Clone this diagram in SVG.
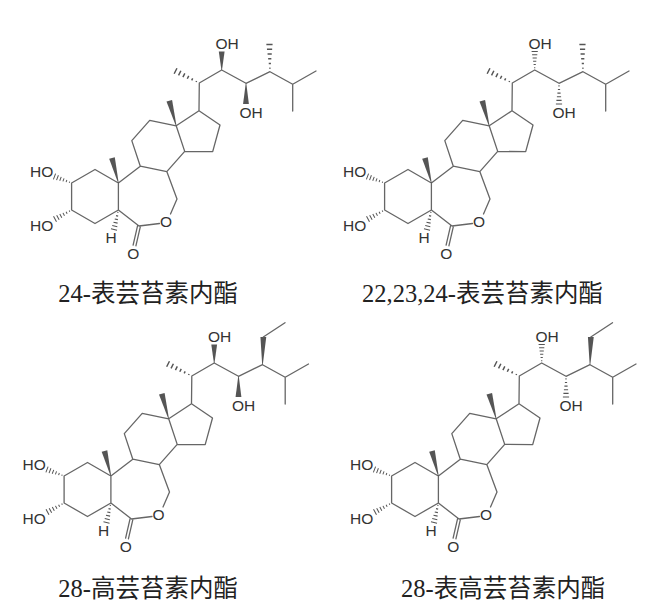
<svg xmlns="http://www.w3.org/2000/svg" width="650" height="613" viewBox="0 0 650 613">
<style>
.b{stroke:#666;stroke-width:1.3;fill:none;stroke-linecap:round;stroke-linejoin:round}
.hash{stroke:#555;stroke-width:1.1;fill:none}
.wedge{fill:#555}
.lab{font-family:"Liberation Sans",Arial,sans-serif;font-size:15.5px;fill:#333}
.title{font-family:"Liberation Serif","Noto Sans CJK SC",serif;font-size:24.5px;fill:#222}
</style>
<defs>
<path id="hw" class="hash" d="M2.5,-0.6V0.6M6,-1.1V1.1M9.5,-1.6V1.6M13,-2.1V2.1M16.5,-2.6V2.6M20,-3.1V3.1"/>
<path id="bw" class="wedge" d="M0,-0.3L20,-2.9L20,2.9L0,0.3Z"/>
<g id="core">
<path class="b" d="M95,169.5L71.6,183L71.6,210L95,223.5L118.4,210L118.4,183Z
M118.4,183L140.3,166.2L166.8,171.6L177,199L170.5,214
M159.5,223.5L139,226L118.4,210
M140.3,166.2L131.8,140.6L149.7,120.4L176.2,125.8L184.7,151.4L166.8,171.6
M176.2,125.8L199,110.7L220,125L212.7,151.7L184.7,151.4
M199,110.7L199.3,83L221.7,70L246,83.3L270,71.7L292.7,84.3L316,71
M292.7,84.3L292.7,111
M140.4,226.3L135.9,245.8
M137.6,225.7L133.1,245.2"/>
<use href="#hw" transform="translate(71.6,183) rotate(200.8) scale(0.915,1)"/>
<use href="#hw" transform="translate(71.6,210) rotate(151.5) scale(0.944,1)"/>
<use href="#hw" transform="translate(118.4,210) rotate(102.7)"/>
<use href="#hw" transform="translate(199.3,83) rotate(206.8) scale(1.33,1)"/>
<use href="#bw" transform="translate(118.4,183) rotate(-104.4) scale(1.29,1)"/>
<use href="#bw" transform="translate(176.2,125.8) rotate(-105.4) scale(1.3,1)"/>
<text class="lab" x="215.5" y="48.8">OH</text>
<text class="lab" x="239.5" y="117.8">OH</text>
<text class="lab" x="53.3" y="177.3" text-anchor="end">HO</text>
<text class="lab" x="53.3" y="230.5" text-anchor="end">HO</text>
<text class="lab" x="111" y="243" text-anchor="middle">H</text>
<text class="lab" x="166" y="227.2" text-anchor="middle">O</text>
<text class="lab" x="133.3" y="258.7" text-anchor="middle">O</text>
</g>
</defs>
<rect width="650" height="613" fill="#fff"/>
<g id="connectors"></g>
<g id="mol1">
<g transform="translate(0,0)">
<use href="#core"/>
<use href="#bw" transform="translate(221.7,70) rotate(-90) scale(0.925,1)"/>
<use href="#bw" transform="translate(246,83.3) rotate(90) scale(1.035,1)"/>
<use href="#hw" transform="translate(270,71.7) rotate(268.9) scale(1.36,1)"/>
</g>
<text class="title" x="58.3" y="302">24-表芸苔素内酯</text>
</g>
<g id="mol2">
<g transform="translate(313,0)">
<use href="#core"/>
<use href="#hw" transform="translate(221.7,70) rotate(-90) scale(0.925,1)"/>
<use href="#hw" transform="translate(246,83.3) rotate(90) scale(1.035,1)"/>
<use href="#hw" transform="translate(270,71.7) rotate(268.9) scale(1.36,1)"/>
</g>
<text class="title" x="362" y="302">22,23,24-表芸苔素内酯</text>
</g>
<g id="mol3">
<g transform="translate(-7.5,293)">
<use href="#core"/>
<use href="#bw" transform="translate(221.7,70) rotate(-90) scale(0.925,1)"/>
<use href="#bw" transform="translate(246,83.3) rotate(90) scale(1.035,1)"/>
<use href="#bw" transform="translate(270,71.7) rotate(-88.3) scale(1.385,1)"/>
<path class="b" d="M270.8,44L292.5,29.7"/>
</g>
<text class="title" x="58.3" y="597">28-高芸苔素内酯</text>
</g>
<g id="mol4">
<g transform="translate(320,293)">
<use href="#core"/>
<use href="#hw" transform="translate(221.7,70) rotate(-90) scale(0.925,1)"/>
<use href="#hw" transform="translate(246,83.3) rotate(90) scale(1.035,1)"/>
<use href="#bw" transform="translate(270,71.7) rotate(-88.3) scale(1.385,1)"/>
<path class="b" d="M270.8,44L292.5,29.7"/>
</g>
<text class="title" x="401" y="597">28-表高芸苔素内酯</text>
</g>
</svg>
